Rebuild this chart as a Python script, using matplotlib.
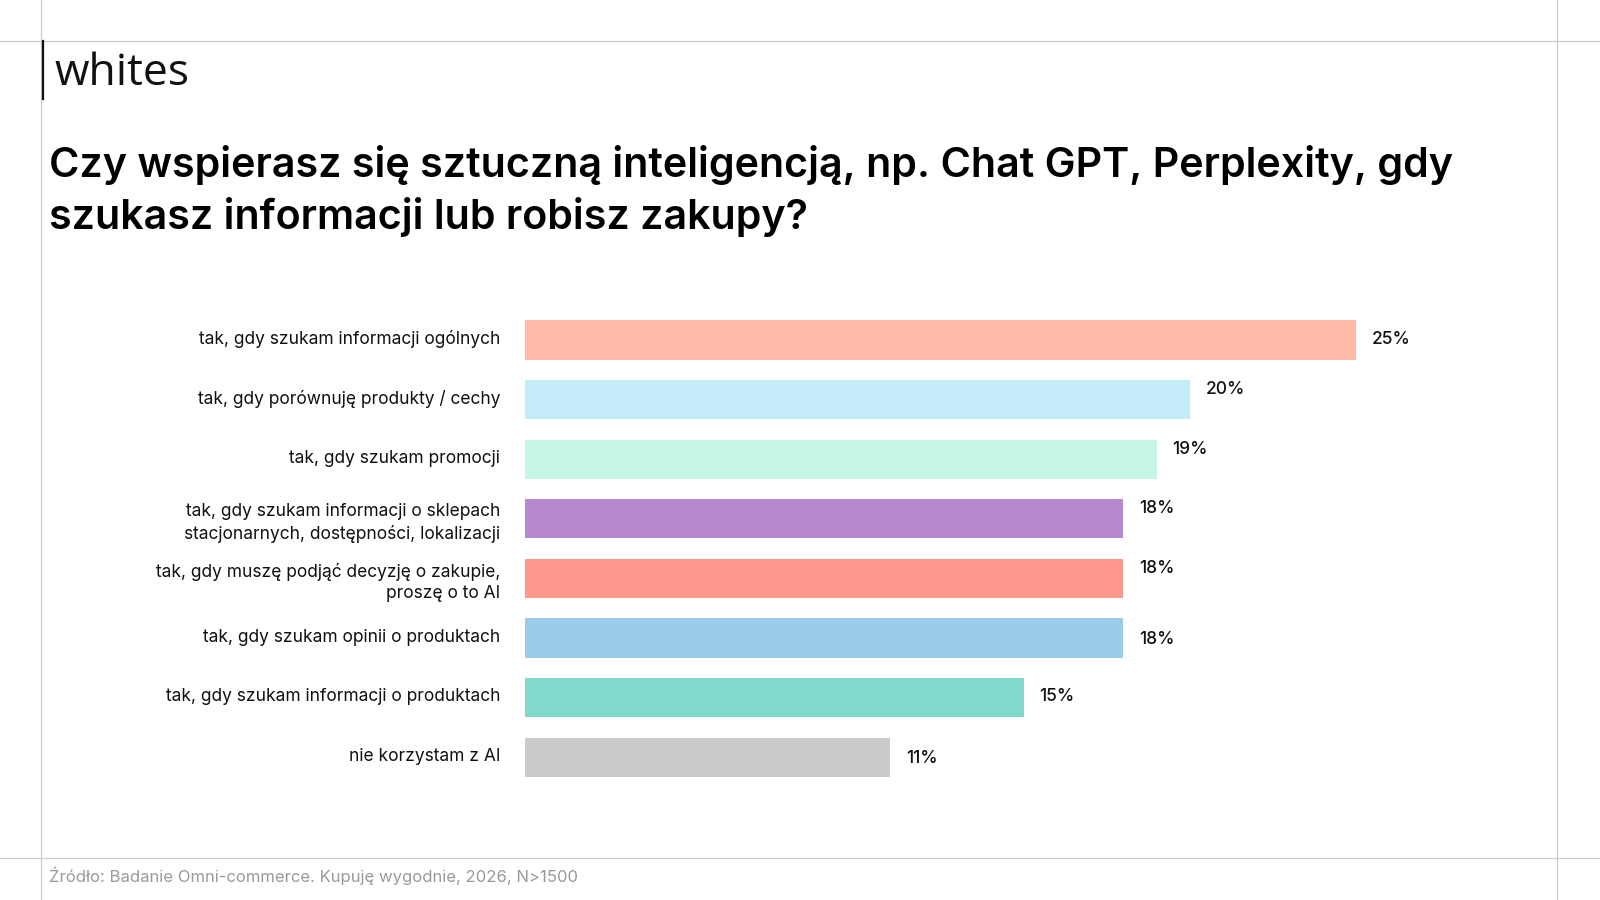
import matplotlib.pyplot as plt
from matplotlib.lines import Line2D
from matplotlib.transforms import ScaledTranslation

# dane z wykresu
categories = [
    "tak, gdy szukam informacji ogólnych",
    "tak, gdy porównuję produkty / cechy",
    "tak, gdy szukam promocji",
    "tak, gdy szukam informacji o sklepach\nstacjonarnych, dostępności, lokalizacji",
    "tak, gdy muszę podjąć decyzję o zakupie,\nproszę o to AI",
    "tak, gdy szukam opinii o produktach",
    "tak, gdy szukam informacji o produktach",
    "nie korzystam z AI",
]
values = [25, 20, 19, 18, 18, 18, 15, 11]
value_labels = ["25%", "20%", "19%", "18%", "18%", "18%", "15%", "11%"]

title = "Czy wspierasz się sztuczną inteligencją, np. Chat GPT, Perplexity, gdy\nszukasz informacji lub robisz zakupy?"
source = "Źródło: Badanie Omni-commerce. Kupuję wygodnie, 2026, N>1500"

bar_colors = ["#FFBBA8", "#C3EBF8", "#C4F5E7", "#B787D0",
              "#FD988D", "#9CCBEA", "#80D9CA", "#CBCBCB"]
# przesunięcie etykiet wartości w pionie (px, dodatnie = w dół)
value_dy = [-1, -10, -10, -10, -10, 1, -1, 1]

W, H = 1600, 900
FONT = ["Inter", "DejaVu Sans"]
plt.rcParams["font.family"] = FONT

fig = plt.figure(figsize=(16, 9), dpi=100)
fig.patch.set_facecolor("white")


def fx(px):
    return px / W


def fy(py):
    # py liczone od góry obrazka
    return 1 - py / H


# linie pomocnicze (ramka slajdu)
grid_c = "#cccccc"
for line in [
    Line2D([fx(40.5), fx(40.5)], [0, 1]),
    Line2D([fx(1557), fx(1557)], [0, 1]),
    Line2D([0, 1], [fy(41), fy(41)]),
    Line2D([0, 1], [fy(858), fy(858)]),
]:
    line.set_color(grid_c)
    line.set_linewidth(0.9)
    line.set_transform(fig.transFigure)
    fig.add_artist(line)

# logo
logo_bar = Line2D([fx(42.5), fx(42.5)], [fy(41), fy(99)], color="#111111",
                  linewidth=1.6, transform=fig.transFigure)
fig.add_artist(logo_bar)
fig.text(fx(54), fy(85), "whites", fontsize=32, color="#111111", weight="medium",
         family=["Open Sans", "DejaVu Sans"], ha="left", va="baseline")

# tytuł
fig.text(fx(49), fy(191), title, fontsize=29.7, weight="semibold", color="#000000",
         ha="left", va="center", linespacing=1.385)

# źródło
fig.text(fx(49), fy(876), source, fontsize=12, color="#9a9a9a",
         ha="left", va="center")

# obszar wykresu
px_per_pct = 33.27
x_left = 524.5
n = len(values)
row_h = 59.6
top = 340 - row_h / 2
ax = fig.add_axes([fx(x_left), fy(top + n * row_h), fx(px_per_pct * 31), n * row_h / H])
ax.set_xlim(0, 31)
ax.set_ylim(n - 0.5, -0.5)

ypos = list(range(n))
bars = ax.barh(ypos, values, height=0.655, color=bar_colors)

ax.set_yticks(ypos)
ax.set_yticklabels(categories, fontsize=12.5, color="#111111", linespacing=1.35)
ax.tick_params(axis="y", length=0, pad=17.6)
ax.set_xticks([])
for s in ax.spines.values():
    s.set_visible(False)

# jednowierszowe etykiety lekko w górę
for lab in ax.get_yticklabels():
    if "\n" not in lab.get_text():
        lab.set_transform(lab.get_transform() + ScaledTranslation(0, 3 / 100, fig.dpi_scale_trans))

for bar, lab, dy in zip(bars, value_labels, value_dy):
    ax.annotate(lab, xy=(bar.get_width(), bar.get_y() + bar.get_height() / 2),
                xytext=(11.5, -dy * 0.72), textcoords="offset points",
                ha="left", va="center", fontsize=12.5, color="#111111",
                weight="medium")

fig.savefig("out.png", dpi=100, facecolor="white")
